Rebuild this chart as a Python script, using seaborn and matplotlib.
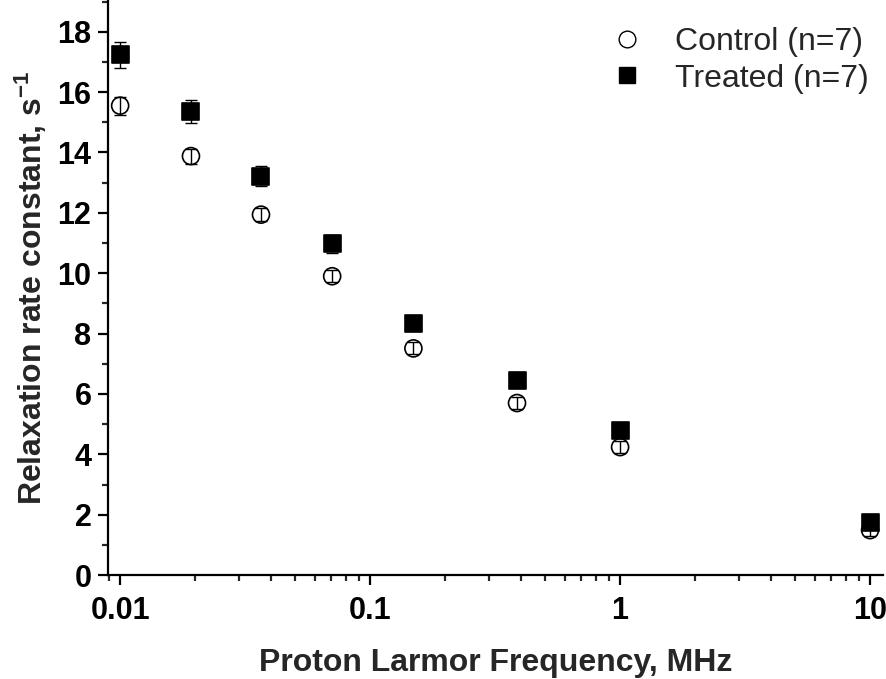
import matplotlib
matplotlib.use("Agg")
import matplotlib.pyplot as plt
import matplotlib.ticker as mticker
from matplotlib.lines import Line2D
import seaborn as sns
import pandas as pd
import numpy as np

freq = [0.01, 0.0192, 0.0366, 0.0705, 0.149, 0.387, 1.0, 10.0]
control = [15.55, 13.88, 11.94, 9.9, 7.51, 5.70, 4.24, 1.49]
control_err = [0.3, 0.25, 0.22, 0.2, 0.2, 0.2, 0.2, 0.2]
treated = [17.23, 15.36, 13.22, 10.98, 8.35, 6.43, 4.80, 1.73]
treated_err = [0.43, 0.37, 0.33, 0.3, 0.15, 0.15, 0.12, 0.1]
labels = ["Control (n=7)", "Treated (n=7)"]
xtick_vals = [0.01, 0.1, 1, 10]
xtick_labels = ["0.01", "0.1", "1", "10"]

df = pd.DataFrame({
    "freq": freq * 2,
    "rate": control + treated,
    "err": control_err + treated_err,
    "group": [labels[0]] * len(freq) + [labels[1]] * len(freq),
})

sns.set_style("ticks")
plt.rcParams['font.family'] = ['Liberation Sans', 'DejaVu Sans']
plt.rcParams['mathtext.fontset'] = 'custom'
plt.rcParams['mathtext.rm'] = 'Liberation Sans'
plt.rcParams['mathtext.bf'] = 'Liberation Sans:bold'
plt.rcParams['mathtext.default'] = 'bf'

fig = plt.figure(figsize=(8.86, 6.79), dpi=100)
ax = fig.add_axes([0.122, 0.153, 0.875, 0.847])

sns.scatterplot(data=df, x="freq", y="rate", hue="group", style="group",
                markers={labels[0]: "o", labels[1]: "s"},
                palette={labels[0]: "white", labels[1]: "black"},
                s=150, edgecolor="black", linewidth=1.2, ax=ax, zorder=3, legend=False)

for g in labels:
    sub = df[df.group == g]
    ax.errorbar(sub.freq, sub.rate, yerr=sub.err, fmt="none", ecolor="black",
                elinewidth=1.0, capsize=4.5, capthick=1.0, zorder=4)

handles = [Line2D([], [], marker="o", ls="none", mfc="white", mec="black", ms=12, mew=1.0),
           Line2D([], [], marker="s", ls="none", mfc="black", mec="black", ms=11)]
ax.legend(handles, labels, loc="upper right", frameon=False, fontsize=23,
          handletextpad=0.5, borderaxespad=0.45, labelspacing=0.2,
          bbox_to_anchor=(1.016, 1.0))

ax.set_xscale("log")
ax.set_xlim(0.00895, 11.3)
ax.set_ylim(0, 19.05)
ax.xaxis.set_major_locator(mticker.FixedLocator(xtick_vals))
ax.xaxis.set_major_formatter(mticker.FixedFormatter(xtick_labels))
ax.xaxis.set_minor_locator(mticker.LogLocator(base=10, subs=np.arange(2, 10)))
ax.xaxis.set_minor_formatter(mticker.NullFormatter())
ax.yaxis.set_major_locator(mticker.MultipleLocator(2))
ax.yaxis.set_minor_locator(mticker.MultipleLocator(1))

for s in ["top", "right"]:
    ax.spines[s].set_visible(False)
for s in ["left", "bottom"]:
    ax.spines[s].set_linewidth(1.6)
    ax.spines[s].set_color("black")

ax.tick_params(axis="both", which="major", direction="out", length=7, width=1.6,
               labelsize=22, colors="black")
ax.tick_params(axis="both", which="minor", direction="out", length=4, width=1.6)
ax.tick_params(axis="x", which="major", pad=8)
ax.tick_params(axis="y", which="major", pad=5)
for t in ax.get_xticklabels() + ax.get_yticklabels():
    t.set_fontweight("bold")

ax.set_xlabel("Proton Larmor Frequency, MHz", fontsize=23, fontweight="bold", labelpad=16)
ax.set_ylabel("Relaxation rate constant, s$^{-1}$", fontsize=23, fontweight="bold", labelpad=6)

fig.savefig("out.png", dpi=100)
